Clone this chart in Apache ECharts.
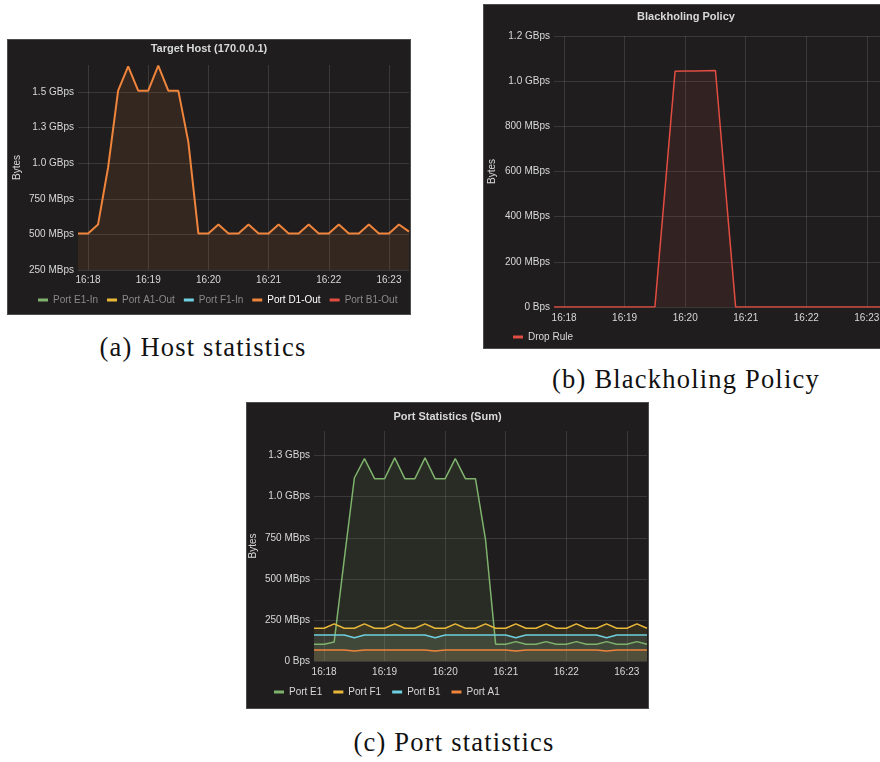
<!DOCTYPE html>
<html><head><meta charset="utf-8">
<script src="https://cdn.jsdelivr.net/npm/echarts@6/dist/echarts.min.js"></script>
<style>
html,body{margin:0;padding:0;width:880px;height:762px;overflow:hidden;background:#fff;}
.panel{position:absolute;box-sizing:border-box;border:1px solid #4d4d4d;background:#1f1d1d;}
.cap{position:absolute;width:400px;text-align:center;font-family:'Liberation Serif',serif;font-size:26.5px;line-height:30px;letter-spacing:1.2px;color:#111;white-space:nowrap;}
</style></head><body>
<div id="pa" class="panel" style="left:7px;top:39px;width:404px;height:276px"></div>
<div id="pb" class="panel" style="left:483px;top:4px;width:406px;height:345px"></div>
<div id="pc" class="panel" style="left:246px;top:402px;width:403px;height:307px"></div>
<div class="cap" style="left:3px;top:332px">(a) Host statistics</div>
<div class="cap" style="left:486px;top:364px">(b) Blackholing Policy</div>
<div class="cap" style="left:254px;top:727px">(c) Port statistics</div>
<script>
// ---- shared time categories (10 s samples) ----
const times = ['16:17:50','16:18:00','16:18:10','16:18:20','16:18:30','16:18:40','16:18:50','16:19:00','16:19:10','16:19:20','16:19:30','16:19:40','16:19:50','16:20:00','16:20:10','16:20:20','16:20:30','16:20:40','16:20:50','16:21:00','16:21:10','16:21:20','16:21:30','16:21:40','16:21:50','16:22:00','16:22:10','16:22:20','16:22:30','16:22:40','16:22:50','16:23:00','16:23:10','16:23:20'];

// ---- (a) Target Host, values in MBps ----
const hostSeriesNames = ['Port E1-In','Port A1-Out','Port F1-In','Port D1-Out','Port B1-Out'];
const hostD1Out = [507,507,570,970,1510,1680,1510,1510,1685,1510,1510,1150,507,507,570,507,507,570,507,507,570,507,507,570,507,507,570,507,507,570,507,507,570,520];

// ---- (b) Blackholing Policy, MBps ----
const dropRule = [0,0,0,0,0,0,0,0,0,0,0,522,1044,1045,1045,1046,1047,523,0,0,0,0,0,0,0,0,0,0,0,0,0,0,0,0];

// ---- (c) Port Statistics (Sum), MBps ----
const portE1 = [102,102,116,620,1114,1232,1110,1110,1236,1110,1110,1236,1110,1110,1232,1110,1110,738,102,102,118,102,102,118,102,102,118,102,102,118,102,102,118,102];
const portF1 = [199,199,226,199,199,226,199,199,226,199,199,226,199,199,226,199,199,226,199,199,226,199,199,226,199,199,226,199,199,226,199,199,226,199];
const portB1 = [158,158,158,158,142,158,158,158,158,158,158,158,142,158,158,158,158,158,158,158,142,158,158,158,158,158,158,158,158,142,158,158,158,158];
const portA1 = [67,67,67,67,61,67,67,67,67,67,67,67,61,67,67,67,67,67,67,67,61,67,67,67,67,67,67,67,67,61,67,67,67,67];

const C = {green:'#7EB26D', yellow:'#EAB839', cyan:'#6ED0E0', orange:'#EF843C', red:'#E24D42'};
const FONT = "'Liberation Sans', Arial, sans-serif";
const TXT = '#d8d9da';
const GRID = 'rgba(200,200,200,0.16)';

function fmtBytes(v){
  if (v === 0) return '0 Bps';
  if (v < 1000) return v + ' MBps';
  return (v/1000).toFixed(1) + ' GBps';
}
const isMinute = (i, v) => /:00$/.test(v);

function xAxis(margin){
  return {
    type:'category', data: times, boundaryGap:false,
    axisLine:{show:false}, axisTick:{show:false},
    axisLabel:{interval:isMinute, formatter:v=>v.slice(0,5), color:TXT, fontSize:10, fontFamily:FONT, margin:margin},
    splitLine:{show:true, interval:isMinute, lineStyle:{color:GRID, width:1}}
  };
}
function yAxis(min, max, interval, gap, showMax){
  return {
    type:'value', min:min, max:max, interval:interval,
    name:'Bytes', nameLocation:'middle', nameGap:gap, nameMoveOverlap:false,
    nameTextStyle:{color:TXT, fontSize:10, fontFamily:FONT},
    axisLine:{show:false}, axisTick:{show:false},
    axisLabel:{formatter:fmtBytes, color:TXT, fontSize:10, fontFamily:FONT, margin:4, showMaxLabel:showMax},
    splitLine:{show:true, showMaxLine:showMax, lineStyle:{color:GRID, width:1}}
  };
}
function title(text, padLeft, top){
  return {text:text, left:'center', top:top, padding:[0,0,0,padLeft],
    textStyle:{color:TXT, fontSize:11, fontWeight:'bold', fontFamily:FONT}};
}
function lineSeries(name, data, color, width){
  return {name:name, type:'line', data:data, showSymbol:false, symbol:'none',
    lineStyle:{color:color, width:width}, itemStyle:{color:color},
    areaStyle:{color:color, opacity:0.1}, animation:false, silent:true};
}

// (a)
const chartA = echarts.init(document.getElementById('pa'), null, {renderer:'canvas'});
const hostColors = [C.green, C.yellow, C.cyan, C.orange, C.red];
const hostData = {'Port D1-Out': hostD1Out};
chartA.setOption({
  animation:false,
  title: title('Target Host (170.0.0.1)', 16, 3),
  grid:{left:70, right:1, top:25, bottom:44, outerBoundsMode:'none'},
  xAxis: xAxis(5),
  yAxis: yAxis(250, 1690, 250, 56, false),
  legend:{left:25, top:250, icon:'rect', itemWidth:10, itemHeight:3, itemGap:9, selectedMode:false,
    textStyle:{fontSize:10, fontFamily:FONT, color:'#8a8a8a'},
    data: hostSeriesNames.map(n => ({name:n, textStyle:{color: n==='Port D1-Out' ? '#ffffff' : '#8a8a8a'}}))},
  series: hostSeriesNames.map((n,i) => lineSeries(n, hostData[n] || [], hostColors[i], 2))
});

// (b)
const chartB = echarts.init(document.getElementById('pb'), null, {renderer:'canvas'});
chartB.setOption({
  animation:false,
  title: title('Blackholing Policy', 7, 6),
  grid:{left:70, right:1, top:31, bottom:41, outerBoundsMode:'none'},
  xAxis: xAxis(6),
  yAxis: yAxis(0, 1200, 200, 57, true),
  legend:{left:24, top:322, icon:'rect', itemWidth:10, itemHeight:3, selectedMode:false,
    textStyle:{fontSize:10, fontFamily:FONT, color:TXT}, data:['Drop Rule']},
  series:[lineSeries('Drop Rule', dropRule, C.red, 1.5)]
});

// (c)
const chartC = echarts.init(document.getElementById('pc'), null, {renderer:'canvas'});
const portNames = ['Port E1','Port F1','Port B1','Port A1'];
const portData = [portE1, portF1, portB1, portA1];
const portColors = [C.green, C.yellow, C.cyan, C.orange];
chartC.setOption({
  animation:false,
  title: title('Port Statistics (Sum)', 15, 8),
  grid:{left:67, right:1, top:28, bottom:47, outerBoundsMode:'none'},
  xAxis: xAxis(6),
  yAxis: yAxis(0, 1400, 250, 56, false),
  legend:{left:22, top:279, icon:'rect', itemWidth:10, itemHeight:3, itemGap:11, selectedMode:false,
    textStyle:{fontSize:10, fontFamily:FONT, color:TXT}, data:portNames},
  series: portNames.map((n,i) => lineSeries(n, portData[i], portColors[i], 1.5))
});
</script>
</body></html>
